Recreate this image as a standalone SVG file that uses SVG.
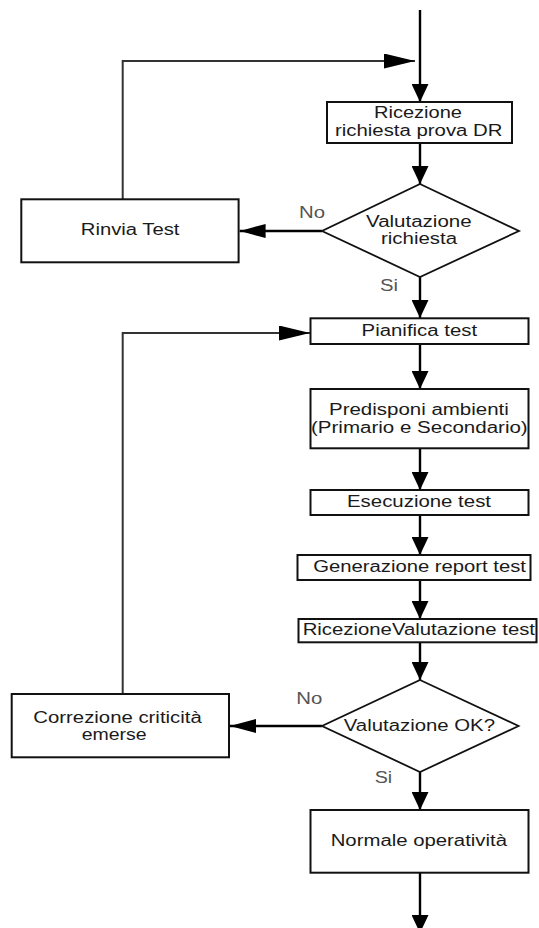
<svg xmlns="http://www.w3.org/2000/svg" width="539" height="928" viewBox="0 0 539 928">
<style>
.box{fill:#fff;stroke:#111;stroke-width:2}
.dia{fill:#fff;stroke:#111;stroke-width:1.8}
.t{font-family:"Liberation Sans",Arial,sans-serif;font-size:16px;fill:#1a1a1a}
.lbl{font-family:"Liberation Sans",Arial,sans-serif;font-size:16px;fill:#555}
.c{fill:none;stroke:#000;stroke-width:2.4}
.fb{fill:none;stroke:#333;stroke-width:2}
</style>
<defs>
<marker id="av" markerUnits="userSpaceOnUse" markerWidth="18" markerHeight="17" viewBox="0 0 18 17" refX="18" refY="8.5" orient="auto"><path d="M0,0 L18,8.5 L0,17 z" fill="#000"/></marker>
<marker id="ah" markerUnits="userSpaceOnUse" markerWidth="31" markerHeight="15" viewBox="0 0 31 15" refX="31" refY="7.5" orient="auto"><path d="M0,0 L31,7.5 L0,15 z" fill="#000"/></marker>
<marker id="an" markerUnits="userSpaceOnUse" markerWidth="26" markerHeight="14" viewBox="0 0 26 14" refX="26" refY="7" orient="auto"><path d="M0,0 L26,7 L0,14 z" fill="#000"/></marker>
</defs>
<rect width="539" height="928" fill="#fff"/>
<g id="connectors">
<path class="c" d="M420,10 V102" marker-end="url(#av)"/>
<path class="fb" d="M122.7,199 V61 H415" marker-end="url(#ah)"/>
<path class="c" d="M420,143 V184" marker-end="url(#av)"/>
<path class="c" d="M322,231 H239.6" marker-end="url(#an)"/>
<path class="c" d="M420,277 V318" marker-end="url(#av)"/>
<path class="fb" d="M122.7,694 V333 H310" marker-end="url(#ah)"/>
<path class="c" d="M420,344 V389" marker-end="url(#av)"/>
<path class="c" d="M420,448 V490" marker-end="url(#av)"/>
<path class="c" d="M420,515 V555" marker-end="url(#av)"/>
<path class="c" d="M420,580 V619" marker-end="url(#av)"/>
<path class="c" d="M420,642 V680" marker-end="url(#av)"/>
<path class="c" d="M322,726 H230" marker-end="url(#an)"/>
<path class="c" d="M420,772 V810" marker-end="url(#av)"/>
<path class="c" d="M420,873 V933" marker-end="url(#av)"/>
<text class="lbl" x="299" y="218" textLength="26" lengthAdjust="spacingAndGlyphs">No</text>
<text class="lbl" x="380" y="291" textLength="18" lengthAdjust="spacingAndGlyphs">Si</text>
<text class="lbl" x="296.3" y="704" textLength="26" lengthAdjust="spacingAndGlyphs">No</text>
<text class="lbl" x="374.7" y="783" textLength="17.5" lengthAdjust="spacingAndGlyphs">Si</text>
</g>
<g id="ricezione">
<rect class="box" x="327" y="102" width="185" height="41"/>
<text class="t" x="374" y="118" textLength="88" lengthAdjust="spacingAndGlyphs">Ricezione</text>
<text class="t" x="335" y="135.5" textLength="167.5" lengthAdjust="spacingAndGlyphs">richiesta prova DR</text>
</g>
<g id="valutazione-richiesta">
<polygon class="dia" points="420,184 519,231 420,277 322,231"/>
<text class="t" x="366" y="227" textLength="105.6" lengthAdjust="spacingAndGlyphs">Valutazione</text>
<text class="t" x="381" y="244" textLength="76" lengthAdjust="spacingAndGlyphs">richiesta</text>
</g>
<g id="rinvia-test">
<rect class="box" x="21.3" y="199.3" width="217.3" height="63"/>
<text class="t" x="80.8" y="235" textLength="98.6" lengthAdjust="spacingAndGlyphs">Rinvia Test</text>
</g>
<g id="pianifica-test">
<rect class="box" x="310.5" y="318.3" width="218" height="25.7"/>
<text class="t" x="361.6" y="336" textLength="115.5" lengthAdjust="spacingAndGlyphs">Pianifica test</text>
</g>
<g id="predisponi-ambienti">
<rect class="box" x="310.5" y="389" width="218" height="59.3"/>
<text class="t" x="329" y="415" textLength="179.8" lengthAdjust="spacingAndGlyphs">Predisponi ambienti</text>
<text class="t" x="311" y="433" textLength="216.7" lengthAdjust="spacingAndGlyphs">(Primario e Secondario)</text>
</g>
<g id="esecuzione-test">
<rect class="box" x="310.5" y="490" width="218" height="25"/>
<text class="t" x="347" y="507" textLength="144" lengthAdjust="spacingAndGlyphs">Esecuzione test</text>
</g>
<g id="generazione-report">
<rect class="box" x="297.5" y="555" width="233" height="25"/>
<text class="t" x="313.3" y="572" textLength="212.7" lengthAdjust="spacingAndGlyphs">Generazione report test</text>
</g>
<g id="ricezione-valutazione">
<rect class="box" x="298.5" y="619" width="238" height="23.3"/>
<text class="t" x="302.7" y="634.5" textLength="232.3" lengthAdjust="spacingAndGlyphs">RicezioneValutazione test</text>
</g>
<g id="valutazione-ok">
<polygon class="dia" points="420,680 518.5,726 420,772 322,726"/>
<text class="t" x="343.8" y="731" textLength="151.2" lengthAdjust="spacingAndGlyphs">Valutazione OK?</text>
</g>
<g id="correzione-criticita">
<rect class="box" x="11.7" y="694" width="217.3" height="63.3"/>
<text class="t" x="33.3" y="723" textLength="168.4" lengthAdjust="spacingAndGlyphs">Correzione criticità</text>
<text class="t" x="81.7" y="740" textLength="65" lengthAdjust="spacingAndGlyphs">emerse</text>
</g>
<g id="normale-operativita">
<rect class="box" x="310.5" y="810" width="218" height="62.7"/>
<text class="t" x="330.7" y="846" textLength="176.3" lengthAdjust="spacingAndGlyphs">Normale operatività</text>
</g>
</svg>
